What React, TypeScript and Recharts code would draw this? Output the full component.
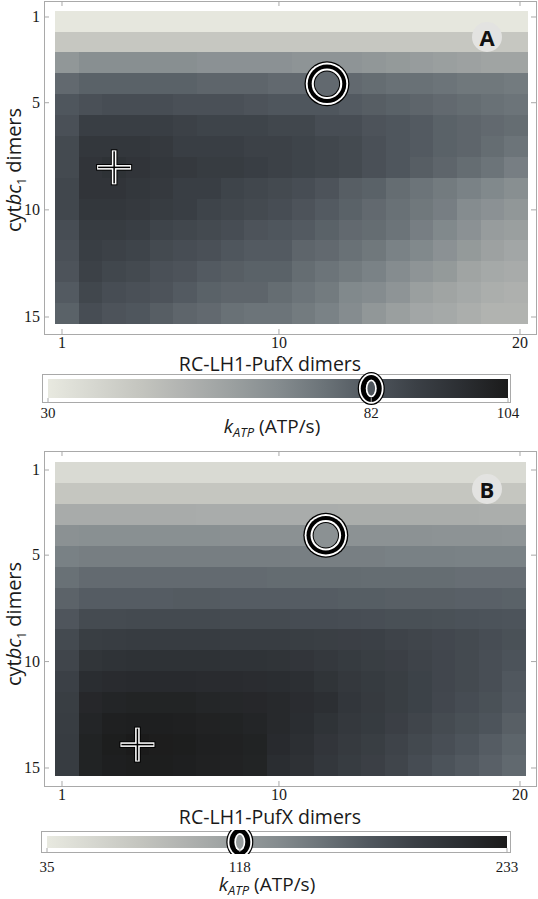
import React from "react";
import { ScatterChart, Scatter, XAxis, YAxis, ReferenceArea } from "recharts";

// RC-LH1-PufX dimers (columns) and cytbc1 dimers (rows)
const rcDimers = [1, 2, 3, 4, 5, 6, 7, 8, 9, 10, 11, 12, 13, 14, 15, 16, 17, 18, 19, 20];
const bcDimers = [1, 2, 3, 4, 5, 6, 7, 8, 9, 10, 11, 12, 13, 14, 15];
const xTicks = [1, 10, 20];
const yTicks = [1, 5, 10, 15];

// kATP (ATP/s), panel A, one row per cytbc1 count
const kA: number[][] = [
  [31, 31, 31, 31, 31, 31, 31, 31, 31, 31, 31, 31, 31, 31, 31, 31, 31, 31, 31, 31],
  [44, 44, 44, 44, 44, 44, 44, 44, 44, 44, 44, 44, 44, 44, 44, 44, 44, 44, 44, 44],
  [63, 66, 66, 66, 66, 66, 65, 65, 65, 65, 64, 64, 64, 63, 62, 61, 60, 59, 58, 58],
  [77, 79, 79, 79, 79, 79, 78, 78, 78, 77, 77, 77, 77, 76, 75, 75, 74, 73, 73, 72],
  [82, 84, 85, 85, 85, 84, 84, 84, 83, 82, 82, 82, 81, 80, 79, 78, 77, 76, 75, 74],
  [84, 90, 90, 90, 90, 89, 88, 88, 88, 87, 87, 85, 85, 83, 82, 81, 79, 78, 77, 76],
  [86, 93, 93, 93, 92, 90, 90, 90, 89, 89, 88, 87, 86, 84, 82, 81, 79, 78, 76, 74],
  [86, 94, 95, 94, 93, 92, 91, 91, 90, 89, 88, 87, 86, 84, 82, 80, 78, 76, 74, 71],
  [87, 94, 94, 93, 92, 90, 90, 88, 87, 86, 85, 83, 80, 79, 76, 74, 72, 70, 68, 66],
  [87, 93, 93, 92, 91, 90, 88, 87, 86, 85, 83, 81, 79, 77, 75, 73, 71, 67, 65, 63],
  [85, 91, 91, 90, 88, 87, 86, 85, 83, 82, 81, 79, 77, 76, 74, 71, 68, 65, 61, 60],
  [84, 90, 89, 88, 86, 85, 84, 82, 81, 81, 78, 77, 75, 73, 70, 68, 65, 62, 59, 57],
  [83, 89, 87, 86, 84, 83, 81, 80, 79, 79, 76, 74, 72, 70, 67, 64, 62, 58, 56, 55],
  [81, 87, 85, 84, 83, 81, 79, 78, 78, 76, 74, 72, 68, 67, 64, 60, 58, 56, 54, 53],
  [79, 85, 83, 82, 80, 78, 77, 75, 74, 74, 72, 70, 67, 63, 60, 57, 56, 54, 52, 52],
];

// kATP (ATP/s), panel B
const kB: number[][] = [
  [51, 51, 51, 51, 51, 51, 51, 51, 51, 51, 51, 51, 51, 51, 51, 51, 51, 51, 51, 51],
  [74, 74, 74, 74, 74, 74, 74, 74, 74, 74, 74, 74, 74, 74, 74, 74, 74, 74, 74, 74],
  [102, 102, 102, 102, 102, 102, 101, 101, 101, 101, 101, 101, 100, 100, 100, 100, 100, 100, 99, 99],
  [129, 130, 130, 130, 130, 130, 130, 129, 129, 129, 129, 129, 128, 128, 128, 128, 127, 127, 127, 126],
  [143, 145, 145, 145, 145, 145, 145, 145, 145, 145, 144, 144, 144, 144, 143, 143, 143, 142, 142, 142],
  [155, 160, 160, 160, 160, 160, 160, 160, 160, 159, 159, 159, 159, 158, 158, 158, 158, 157, 157, 157],
  [165, 170, 170, 170, 170, 171, 171, 170, 170, 170, 170, 170, 169, 169, 168, 168, 168, 167, 167, 166],
  [175, 184, 184, 185, 185, 185, 185, 184, 184, 184, 183, 183, 182, 181, 180, 180, 179, 178, 177, 176],
  [185, 196, 197, 198, 198, 198, 198, 197, 197, 197, 196, 195, 194, 193, 191, 189, 187, 185, 182, 179],
  [189, 206, 208, 209, 209, 209, 209, 208, 208, 207, 205, 202, 199, 196, 194, 191, 188, 185, 181, 177],
  [193, 214, 216, 217, 217, 217, 216, 216, 215, 214, 212, 207, 202, 199, 196, 192, 188, 185, 181, 174],
  [196, 220, 223, 224, 224, 224, 222, 221, 220, 218, 215, 212, 204, 200, 196, 192, 187, 183, 179, 172],
  [197, 223, 228, 229, 229, 228, 226, 225, 223, 218, 214, 208, 202, 199, 194, 189, 184, 180, 176, 168],
  [198, 225, 230, 233, 231, 230, 228, 227, 225, 217, 212, 205, 200, 196, 191, 186, 181, 176, 170, 164],
  [198, 225, 229, 230, 230, 229, 227, 226, 224, 214, 210, 203, 198, 194, 189, 183, 177, 172, 167, 161],
];

const barA = { lo: 30, hi: 104, ticks: [30, 82, 104], mark: 82 };
const barB = { lo: 35, hi: 233, ticks: [35, 118, 233], mark: 118 };

const circleA = [{ x: 12, y: 4 }];
const plusA = [{ x: 3, y: 8 }];
const circleB = [{ x: 12, y: 4 }];
const plusB = [{ x: 4, y: 14 }];

// gray tones, light -> dark
const STOPS = [
  [232, 233, 224], [214, 215, 208], [196, 197, 191], [176, 178, 176], [155, 160, 160],
  [133, 140, 143], [107, 115, 120], [80, 87, 94], [59, 64, 70], [43, 46, 50], [27, 27, 27],
];

const SANS = "'Open Sans', 'Noto Sans', sans-serif";
const SERIF = "'Liberation Serif', 'DejaVu Serif', serif";
const FRAME = "#a9a9a9";
const LEFT = 44;
const RIGHT = 536;
const W = 538;

function gray(v: number, lo: number, hi: number) {
  const t = Math.min(1, Math.max(0, (v - lo) / (hi - lo))) * (STOPS.length - 1);
  const i = Math.min(STOPS.length - 2, Math.floor(t));
  const f = t - i;
  const c = STOPS[i].map((a, k) => Math.round(a + (STOPS[i + 1][k] - a) * f));
  return `rgb(${c.join(",")})`;
}

const tickText = { fontFamily: SERIF, fontSize: 16, fill: "#1a1a1a" };

function ringShape(inner: string) {
  return (p: any) => (
    <g>
      <circle cx={p.cx} cy={p.cy} r={22.5} fill="#000" />
      <circle cx={p.cx} cy={p.cy} r={21.2} fill="#fff" />
      <circle cx={p.cx} cy={p.cy} r={19.3} fill="#000" />
      <circle cx={p.cx} cy={p.cy} r={15.3} fill="#fff" />
      <circle cx={p.cx} cy={p.cy} r={13.2} fill="#000" />
      <circle cx={p.cx} cy={p.cy} r={12.2} fill={inner} />
    </g>
  );
}

const plusShape = (p: any) => {
  const bar = (L: number, T: number, fill: string) => (
    <>
      <rect x={p.cx - L} y={p.cy - T / 2} width={2 * L} height={T} fill={fill} />
      <rect x={p.cx - T / 2} y={p.cy - L} width={T} height={2 * L} fill={fill} />
    </>
  );
  return (
    <g>
      {bar(18, 6.5, "#000")}
      {bar(17, 4.6, "#fff")}
      {bar(16, 1.5, "#000")}
    </g>
  );
};

const cellShape = (fill: string) => (p: any) => (
  <rect x={p.x} y={p.y} width={p.width} height={p.height} fill={fill} shapeRendering="crispEdges" />
);

const TICK_X: [number, number] = [0.2533, 20.664];

type HeatProps = {
  grid: number[][];
  lo: number;
  hi: number;
  top: number;
  frameH: number;
  cellX: [number, number];
  cellY: [number, number];
  tickY: [number, number];
  circle: { x: number; y: number }[];
  plus: { x: number; y: number }[];
};

function Heatmap({ grid, lo, hi, top, frameH, cellX, cellY, tickY, circle, plus }: HeatProps) {
  const cells = grid.flatMap((row, r) => row.map((v, c) => ({ x: rcDimers[c], y: bcDimers[r], v })));
  const ringFill = gray(grid[circle[0].y - 1][circle[0].x - 1], lo, hi);
  const bottom = frameH;

  // ticks point inward on all four sides of the frame
  const bottomTick = (p: any) => (
    <g>
      <line x1={p.x} x2={p.x} y1={bottom} y2={bottom - 5} stroke={FRAME} />
      <line x1={p.x} x2={p.x} y1={0} y2={5} stroke={FRAME} />
      <text x={p.x} y={bottom + 14} textAnchor="middle" {...tickText}>{p.payload.value}</text>
    </g>
  );
  const leftTick = (p: any) => (
    <g>
      <line x1={LEFT} x2={LEFT + 5} y1={p.y} y2={p.y} stroke={FRAME} />
      <line x1={RIGHT} x2={RIGHT - 5} y1={p.y} y2={p.y} stroke={FRAME} />
      <text x={LEFT - 4} y={p.y + 5} textAnchor="end" {...tickText}>{p.payload.value}</text>
    </g>
  );

  return (
    <>
      <div style={{ position: "absolute", left: LEFT, top, width: RIGHT - LEFT + 1, height: frameH + 1,
        border: `1px solid ${FRAME}`, boxSizing: "border-box" }} />
      <div style={{ position: "absolute", left: 0, top }}>
        <ScatterChart width={W} height={frameH} margin={{ top: 0, right: W - RIGHT, bottom: 0, left: LEFT }}>
          <XAxis dataKey="x" type="number" domain={cellX} allowDataOverflow hide />
          <YAxis dataKey="y" type="number" domain={cellY} allowDataOverflow reversed hide />
          {cells.map((d) => (
            <ReferenceArea key={`${d.x}-${d.y}`} x1={d.x - 0.5} x2={d.x + 0.5}
              y1={d.y - 0.5} y2={d.y + 0.5} ifOverflow="visible" shape={cellShape(gray(d.v, lo, hi))} />
          ))}
          <Scatter data={circle} shape={ringShape(ringFill)} isAnimationActive={false} />
          <Scatter data={plus} shape={plusShape} isAnimationActive={false} />
        </ScatterChart>
      </div>
      <div style={{ position: "absolute", left: 0, top }}>
        <ScatterChart width={W} height={frameH + 30} margin={{ top: 0, right: W - RIGHT, bottom: 0, left: 0 }}>
          <XAxis dataKey="x" type="number" domain={TICK_X} allowDataOverflow ticks={xTicks} interval={0}
            height={30} axisLine={false} tickLine={false} tickSize={0} tickMargin={0} tick={bottomTick} />
          <YAxis dataKey="y" type="number" domain={tickY} allowDataOverflow reversed ticks={yTicks} interval={0}
            width={LEFT} axisLine={false} tickLine={false} tickSize={0} tickMargin={0} tick={leftTick} />
          <Scatter data={[]} isAnimationActive={false} />
        </ScatterChart>
      </div>
    </>
  );
}

type BarProps = {
  lo: number;
  hi: number;
  ticks: number[];
  mark: number;
  gradTop: number;
  gradH: number;
  left: number;
  right: number;
  labelDy: number;
};

function ColorBar({ lo, hi, ticks, mark, gradTop, gradH, left, right, labelDy }: BarProps) {
  const id = `grad${lo}`;
  const markFill = gray(mark, lo, hi);
  const axisY = 16 + gradH;
  const barTick = (p: any) => (
    <g>
      <line x1={p.x} x2={p.x} y1={axisY} y2={axisY + 4} stroke={FRAME} />
      <text x={p.x} y={axisY + labelDy} textAnchor="middle" fontFamily={SERIF} fontSize={15} fill="#1a1a1a">
        {p.payload.value}
      </text>
    </g>
  );
  const oval = (p: any) => (
    <g>
      <ellipse cx={p.cx} cy={p.cy} rx={13.5} ry={16.5} fill="#000" />
      <ellipse cx={p.cx} cy={p.cy} rx={12.3} ry={15.3} fill="#fff" />
      <ellipse cx={p.cx} cy={p.cy} rx={10.5} ry={13.5} fill="#000" />
      <ellipse cx={p.cx} cy={p.cy} rx={5.5} ry={9} fill="#fff" />
      <ellipse cx={p.cx} cy={p.cy} rx={3.8} ry={7.2} fill={markFill} />
    </g>
  );
  return (
    <div style={{ position: "absolute", left: 0, top: gradTop - 16 }}>
      <ScatterChart width={W} height={16 + gradH + 34} margin={{ top: 16, right: W - right, bottom: 0, left }}>
        <XAxis dataKey="v" type="number" domain={[lo, hi]} allowDataOverflow ticks={ticks} interval={0} height={34}
          axisLine={false} tickLine={false} tickSize={0} tickMargin={0} tick={barTick} />
        <YAxis dataKey="y" type="number" domain={[0, 1]} hide width={0} />
        <ReferenceArea x1={lo} x2={hi} y1={0} y2={1} ifOverflow="visible"
          shape={(p: any) => (
            <g>
              <defs>
                <linearGradient id={id} x1="0" y1="0" x2="1" y2="0">
                  {STOPS.map((c, i) => (
                    <stop key={i} offset={`${(i / (STOPS.length - 1)) * 100}%`} stopColor={`rgb(${c.join(",")})`} />
                  ))}
                </linearGradient>
              </defs>
              <rect x={p.x} y={p.y} width={p.width} height={p.height} fill={`url(#${id})`} />
            </g>
          )} />
        <Scatter data={[{ v: mark, y: 0.5 }]} shape={oval} isAnimationActive={false} />
      </ScatterChart>
    </div>
  );
}

const abs = (left: number, top: number): React.CSSProperties => ({
  position: "absolute", left, top, transform: "translate(-50%, -50%)", whiteSpace: "nowrap",
});

function YLabel({ x, y }: { x: number; y: number }) {
  return (
    <div style={{ ...abs(x, y), transform: "translate(-50%, -50%) rotate(-90deg)", fontFamily: SANS, fontSize: 20, color: "#1a1a1a" }}>
      cyt<i>bc</i><span style={{ fontSize: 12, position: "relative", top: 5 }}>1</span> dimers
    </div>
  );
}

function XLabel({ x, y }: { x: number; y: number }) {
  return (
    <div style={{ ...abs(x, y), fontFamily: SANS, fontSize: 19.5, lineHeight: 1, color: "#1a1a1a" }}>
      RC-LH1-PufX dimers
    </div>
  );
}

function KLabel({ x, y }: { x: number; y: number }) {
  return (
    <div style={{ ...abs(x, y), fontFamily: SANS, fontSize: 19, color: "#1a1a1a" }}>
      <i>k</i><i style={{ fontSize: 13, position: "relative", top: 4 }}>ATP</i> (ATP/s)
    </div>
  );
}

function Tag({ x, y, text }: { x: number; y: number; text: string }) {
  return (
    <div style={{ ...abs(x, y), width: 30, height: 30, borderRadius: 15, background: "#e3e3e1", display: "flex",
      alignItems: "center", justifyContent: "center", fontFamily: SANS, fontWeight: 700, fontSize: 22, color: "#111" }}>
      {text}
    </div>
  );
}

const box = (left: number, top: number, width: number, height: number): React.CSSProperties => ({
  position: "absolute", left, top, width, height, border: `1px solid ${FRAME}`, boxSizing: "border-box", background: "#fff",
});

export default function App() {
  return (
    <div style={{ position: "absolute", left: 0, top: 0, width: W, height: 899, background: "#fff", overflow: "hidden" }}>
      <Heatmap grid={kA} lo={barA.lo} hi={barA.hi} top={1} frameH={333}
        cellX={[0.035, 20.838]} cellY={[0.036, 15.979]} tickY={[0.2534, 15.793]} circle={circleA} plus={plusA} />
      <Tag x={487} y={37} text="A" />
      <YLabel x={13} y={170} />
      <XLabel x={270} y={364} />
      <div style={box(42, 374, 469, 29)} />
      <ColorBar {...barA} gradTop={379} gradH={19} left={48} right={508} labelDy={20} />
      <KLabel x={272} y={426} />

      <Heatmap grid={kB} lo={barB.lo} hi={barB.hi} top={451} frameH={335}
        cellX={[0.033, 20.925]} cellY={[-0.0256, 15.978]} tickY={[0.107, 15.846]} circle={circleB} plus={plusB} />
      <Tag x={487} y={489} text="B" />
      <YLabel x={13} y={624} />
      <XLabel x={270} y={817} />
      <div style={box(41, 831, 470, 22)} />
      <ColorBar {...barB} gradTop={836} gradH={12} left={47} right={507} labelDy={24} />
      <KLabel x={267} y={884} />
    </div>
  );
}
